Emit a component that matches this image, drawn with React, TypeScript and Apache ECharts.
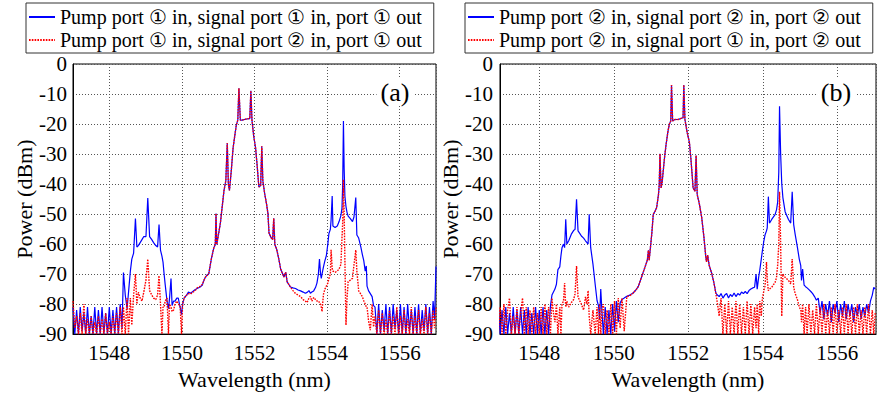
import React, { useEffect, useRef } from "react";
import * as echarts from "echarts";

// ---------- data : panel (a) ----------
const wlA = [
  1547.00,1547.05,1547.10,1547.15,1547.20,1547.25,1547.30,1547.35,1547.40,1547.45,
  1547.50,1547.55,1547.60,1547.65,1547.70,1547.75,1547.80,1547.85,1547.90,1547.95,
  1548.00,1548.05,1548.10,1548.15,1548.20,1548.25,1548.30,1548.35,
  1548.39,1548.44,1548.49,1548.53,1548.58,1548.62,1548.67,1548.72,1548.76,1548.80,
  1548.85,1548.90,1548.95,1549.01,1549.06,1549.11,1549.17,1549.22,1549.28,1549.33,
  1549.37,1549.41,1549.45,1549.48,1549.51,1549.54,1549.59,1549.63,1549.66,1549.70,
  1549.73,1549.77,1549.81,1549.86,1549.90,1549.95,1549.99,1550.02,1550.06,1550.13,
  1550.18,
  1550.24,1550.30,1550.36,1550.42,1550.49,1550.56,1550.61,1550.65,1550.70,1550.74,
  1550.81,1550.88,1550.92,1550.94,1550.96,1551.00,1551.06,1551.11,1551.16,1551.21,
  1551.25,1551.28,1551.31,1551.36,1551.41,1551.46,1551.50,1551.54,1551.57,1551.61,
  1551.66,1551.75,1551.84,1551.87,1551.90,1551.93,1551.98,1552.03,1552.07,1552.12,
  1552.17,1552.20,1552.23,1552.28,1552.33,1552.37,1552.40,1552.46,1552.50,1552.53,
  1552.56,1552.61,1552.67,1552.72,1552.81,1552.86,1552.90,1552.99,1553.06,1553.13,
  1553.20,1553.27,1553.34,1553.40,1553.45,1553.50,1553.54,1553.58,1553.63,1553.68,
  1553.72,1553.76,1553.79,1553.82,1553.84,1553.86,1553.90,1553.94,1553.98,1554.02,
  1554.05,1554.09,1554.11,1554.14,1554.16,1554.22,1554.28,1554.33,1554.38,1554.41,
  1554.43,1554.45,1554.47,1554.49,1554.52,1554.55,1554.58,1554.64,1554.70,1554.74,
  1554.79,1554.82,1554.87,1554.93,1554.97,1555.01,1555.05,1555.08,1555.10,1555.14,
  1555.19,1555.24,1555.28,
  1555.32,1555.37,1555.42,1555.47,1555.52,1555.57,1555.62,1555.67,1555.72,1555.77,
  1555.82,1555.87,1555.92,1555.97,1556.02,1556.07,1556.12,1556.17,1556.22,1556.27,
  1556.32,1556.37,1556.42,1556.47,1556.52,1556.57,1556.62,1556.67,1556.72,1556.77,
  1556.82,1556.87,1556.92,1556.96,1557.00,
];
const blueA = [
  -81,-90,-82,-90,-81,-89,-83,-90,-81,-90,
  -84,-90,-81,-90,-82,-90,-81,-90,-83,-90,
  -81,-90,-82,-90,-81,-90,-80,-88,
  -69.5,-77,-81.5,-76,-69,-65,-63,-51.5,-61,-60.5,
  -59.5,-58.5,-57.5,-57.5,-44.7,-57.5,-58.5,-59.5,-60.5,-61,
  -53.5,-62,-64,-66,-70,-73.5,-79,-81.5,-78,-71.5,
  -80.5,-79,-79,-78,-78,-81,-83.5,-80,-78,-77,
  -76,
  -76.4,-75.8,-75.2,-74.8,-74.4,-73.7,-72,-71,-70.2,-69.9,
  -65,-61.2,-60.1,-49.8,-60.1,-57.4,-53,-47.6,-42.1,-38.9,
  -26.3,-40,-42.1,-35.6,-28,-23.6,-20.3,-18.7,-8.1,-18.7,
  -18.7,-18.4,-18.2,-18.2,-8.9,-18.7,-24.2,-28,-33.4,-41,
  -40.5,-27.4,-38.9,-43.2,-46.5,-49.8,-56.3,-57.9,-58.5,-51.4,
  -60.1,-61.7,-65,-68.3,-71,-69.4,-72.6,-74.3,-74.6,-74.8,
  -75.3,-75.6,-76,-76.4,-76.1,-75.5,-76.4,-76,-75.6,-74.5,
  -73,-70,-65,-70,-71.4,-70,-67.6,-65.5,-63.8,-60,
  -56.5,-55.1,-52,-44,-54,-54.5,-54,-52.5,-50.5,-48,
  -40,-19,-35,-44,-47.5,-49.5,-50.7,-51.5,-52.5,-51,
  -44.5,-57,-58,-61,-63.4,-65.5,-69,-67.3,-74,-75.5,
  -76.5,-77.5,-80.5,
  -81,-90,-80,-90,-82,-89,-80,-90,-81,-90,
  -80,-88,-82,-90,-80,-90,-81,-90,-80,-89,
  -82,-90,-81,-90,-80,-90,-82,-89,-80,-90,
  -81,-90,-79,-85,-67.5,
];
const redA = [
  -79,-88,-84,-90,-83,-90,-80,-90,-85,-90,
  -84,-90,-86,-90,-84,-90,-85,-90,-83,-90,
  -86,-90,-84,-90,-83,-90,-81,-90,
  -81,-90,-78,-90,-78,-87,-77,-70,-80,-76,
  -78,-79,-76,-72,-65,-75.5,-77,-78,-78.5,-77,
  -70.5,-80,-90,-81,-81,-79,-78,-90,-80,-81,
  -82.5,-82,-80,-79,-80,-80.5,-90,-80,-78,-77,
  -76.5,
  -76.6,-76,-75.6,-74.6,-74.2,-73.5,-72,-71,-70.4,-69.9,
  -65,-61.2,-60.1,-49.8,-60.1,-57.4,-53,-47.6,-42.1,-38.9,
  -26.3,-40,-42.1,-35.6,-28,-23.6,-20.3,-18.7,-8.1,-18.7,
  -18.7,-18.4,-18.2,-18.2,-8.9,-18.7,-24.2,-28,-33.4,-41,
  -40.5,-27.4,-38.9,-43.2,-46.5,-49.8,-56.3,-57.9,-58.5,-51.4,
  -60.1,-61.7,-65,-68.3,-71,-69.4,-72.6,-74.3,-75.5,-76.5,
  -77,-77.5,-78.5,-79,-79.5,-78,-77.5,-79,-77.8,-78.5,
  -79,-78.9,-79.5,-80,-81,-82.5,-76.7,-75,-74,-73,
  -71.5,-70,-61.9,-68,-69,-69.4,-69,-68.3,-66.8,-58,
  -52.6,-38.5,-50,-65,-87,-78,-72.5,-72,-71.4,-67,
  -62,-69,-75.6,-76.7,-77.5,-78.9,-80,-81,-81,-85.4,
  -88.7,-80,-87.6,
  -84,-90,-82,-90,-83,-90,-85,-90,-82,-90,
  -84,-90,-81,-90,-84,-90,-82,-90,-85,-90,
  -81,-90,-84,-90,-82,-90,-85,-90,-81,-90,
  -83,-90,-82,-88,-81,
];

// ---------- data : panel (b) ----------
const wlB = [
  1546.90,1546.95,1547.00,1547.05,1547.10,1547.15,1547.20,1547.25,1547.30,1547.35,
  1547.40,1547.45,1547.50,1547.55,1547.60,1547.65,1547.70,1547.75,1547.80,1547.85,
  1547.90,1547.95,1548.00,1548.05,1548.10,1548.15,1548.20,1548.25,1548.30,
  1548.34,1548.38,1548.42,1548.46,1548.50,1548.55,1548.58,1548.61,1548.65,1548.68,
  1548.71,1548.74,1548.79,1548.86,1548.92,1548.96,1549.00,1549.04,1549.09,1549.13,
  1549.19,1549.24,1549.28,1549.31,1549.34,1549.38,1549.44,1549.50,1549.55,1549.59,
  1549.62,1549.65,1549.68,
  1549.72,1549.77,1549.82,1549.87,1549.92,1549.97,1550.02,1550.07,1550.12,1550.17,
  1550.22,1550.28,1550.35,
  1550.43,1550.52,1550.60,1550.66,1550.75,1550.84,1550.90,1550.93,1550.95,1551.02,
  1551.06,1551.11,1551.15,1551.20,1551.22,1551.24,1551.27,1551.30,1551.36,1551.40,
  1551.45,1551.49,1551.53,1551.55,1551.58,1551.64,1551.73,1551.79,1551.86,1551.88,
  1551.91,1551.97,1552.03,1552.07,1552.13,1552.18,1552.21,1552.24,1552.30,1552.36,
  1552.42,1552.47,1552.49,1552.52,1552.56,1552.63,1552.69,1552.74,1552.78,
  1552.83,1552.88,1552.93,1552.98,1553.03,1553.08,1553.13,1553.18,1553.23,1553.28,
  1553.33,1553.38,1553.43,1553.48,1553.53,1553.58,1553.63,1553.68,1553.73,1553.78,
  1553.82,1553.85,1553.89,1553.92,1553.96,1553.99,1554.03,1554.06,1554.10,1554.12,
  1554.15,1554.18,1554.24,1554.33,1554.37,1554.40,1554.43,1554.45,1554.48,1554.51,
  1554.54,1554.60,1554.69,1554.75,1554.79,1554.83,1554.87,1554.93,1554.98,1555.02,
  1555.04,1555.07,1555.11,1555.15,1555.19,1555.24,1555.29,1555.34,1555.39,1555.44,
  1555.49,
  1555.54,1555.59,1555.64,1555.69,1555.74,1555.79,1555.84,1555.89,1555.94,1555.99,
  1556.04,1556.09,1556.14,1556.19,1556.24,1556.29,1556.34,1556.39,1556.44,1556.49,
  1556.54,1556.59,1556.64,1556.69,1556.74,1556.79,1556.84,1556.89,1556.94,1556.98,
  1557.02,
];
const blueB = [
  -81,-90,-82,-90,-81,-90,-83,-90,-81,-90,
  -82,-90,-81,-90,-82,-90,-81,-90,-83,-90,
  -81,-90,-82,-90,-81,-90,-82,-90,-80.6,
  -77,-76,-75,-73.4,-68.5,-67.6,-64,-61.2,-60,-61.2,
  -51.7,-60,-58.9,-56.7,-55.5,-55.1,-45.1,-55.6,-56.5,-57.3,
  -58,-58.9,-59.5,-60,-50.1,-61.2,-66.6,-73.4,-78.8,-80.6,
  -85,-75,-82,
  -90,-81,-90,-82,-90,-80,-89,-79,-86,-79.6,
  -78.5,-78,-77.4,
  -77,-76.3,-75.2,-74.1,-70.8,-67.6,-65.4,-62.1,-65.4,-56.6,
  -50.1,-49,-47.9,-43.5,-40.3,-29.9,-41.3,-39.1,-31.5,-27.2,
  -22.8,-20.1,-19,-7,-19,-18.5,-18.5,-18.2,-17.9,-7,
  -18.5,-22.8,-26.1,-31.5,-41.3,-42.4,-30.5,-43.5,-46.8,-51.1,
  -57.7,-64.3,-65.9,-63.7,-67,-69.8,-73,-76.3,-77,
  -77.5,-76.5,-78,-77,-76.5,-78,-76.8,-77.5,-76.3,-77.5,
  -76.5,-77,-76,-76.5,-75.8,-76.5,-75.5,-75,-74.6,-74.4,
  -70,-75,-71,-68.7,-65,-62.2,-58.9,-57,-55.6,-54.6,
  -44.2,-53,-51.8,-50.2,-48.5,-46,-36,-14.1,-30,-40,
  -44.5,-49.2,-51.8,-53,-42.6,-53.5,-56.8,-61.1,-65,-67.2,
  -72.1,-68.3,-73.7,-74.2,-74.6,-75.2,-75.8,-76.5,-77.5,-78.7,
  -78,
  -83,-79,-85,-80,-84,-79,-86,-80,-83,-79,
  -86,-80,-84,-79,-85,-80,-84,-80,-86,-81,
  -84,-80,-85,-81,-84,-80,-83,-79,-77,-74.4,
  -75,
];
const redB = [
  -90,-81,-90,-80,-90,-82,-78,-90,-84,-90,
  -81,-90,-83,-78,-90,-81,-90,-82,-90,-81,
  -90,-83,-90,-81,-90,-80,-90,-81,-90,
  -78,-83,-86,-80,-90,-81,-90,-80,-79,-73,
  -81,-79,-81,-79.5,-78.5,-76.6,-67.3,-77.6,-79,-80,
  -82,-77.6,-80,-75.5,-84,-90,-82,-90,-81,-90,
  -80,-90,-82,
  -80,-90,-82,-90,-80,-90,-79,-90,-78,-88,
  -78,-89,-77.5,
  -77.2,-76.3,-75.2,-74.1,-70.8,-67.6,-65.4,-62.1,-65.4,-56.6,
  -50.1,-49,-47.9,-43.5,-40.3,-29.9,-41.3,-39.1,-31.5,-27.2,
  -22.8,-20.1,-19,-7,-19,-18.5,-18.5,-18.2,-17.9,-7,
  -18.5,-22.8,-26.1,-31.5,-41.3,-42.4,-30.5,-43.5,-46.8,-51.1,
  -57.7,-64.3,-65.9,-63.7,-67,-69.8,-73,-76.5,-79.6,
  -84,-78,-90,-80,-90,-79,-90,-81,-90,-79,
  -90,-80,-90,-81,-90,-79,-90,-80,-90,-81,
  -88,-80,-90,-79,-84,-78,-75.5,-74,-66,-72,
  -75.5,-75,-74.4,-72.8,-71.1,-67,-60,-42.6,-60,-84,
  -70,-71.1,-72.1,-73.3,-65,-74.4,-76.5,-78.5,-80.9,-82,
  -86,-80,-90,-81,-90,-80,-90,-82,-90,-80,
  -90,
  -81,-90,-80,-90,-82,-90,-81,-90,-80,-90,
  -82,-90,-81,-90,-80,-90,-82,-90,-81,-90,
  -80,-90,-82,-90,-81,-90,-80,-90,-82,-90,
  -83,
];

const legendA = [
  "Pump port ① in, signal port ① in, port ① out",
  "Pump port ① in, signal port ② in, port ① out",
];
const legendB = [
  "Pump port ② in, signal port ② in, port ② out",
  "Pump port ② in, signal port ① in, port ② out",
];
const panelLabels = ["(a)", "(b)"];

const FONT = "Liberation Serif";

function pairs(xs: number[], ys: number[]) {
  return xs.map((x, i) => [x, ys[i]]);
}

function mkX(gridIndex: number, min: number, max: number) {
  return {
    type: "value",
    gridIndex,
    min,
    max,
    splitNumber: 5,
    name: "Wavelength (nm)",
    nameLocation: "middle",
    nameGap: 28,
    nameTextStyle: { fontSize: 22, fontFamily: FONT, color: "#000" },
    axisLine: { show: true, onZero: false, lineStyle: { color: "#000", width: 1 } },
    axisTick: { show: false },
    axisLabel: {
      fontSize: 21,
      fontFamily: FONT,
      color: "#000",
      margin: 8,
      showMinLabel: false,
      showMaxLabel: false,
      formatter: (v: number) => String(v),
    },
    splitLine: { show: true, lineStyle: { color: "#555", type: [1, 2], width: 1 } },
  };
}

function mkY(gridIndex: number, nameGap: number, margin: number) {
  return {
    type: "value",
    gridIndex,
    min: -90,
    max: 0,
    interval: 10,
    name: "Power (dBm)",
    nameLocation: "middle",
    nameGap,
    nameTextStyle: { fontSize: 22, fontFamily: FONT, color: "#000" },
    axisLine: { show: true, onZero: false, lineStyle: { color: "#000", width: 1 } },
    axisTick: { show: false },
    axisLabel: { fontSize: 21, fontFamily: FONT, color: "#000", margin, formatter: (v: number) => String(v) },
    splitLine: { show: true, lineStyle: { color: "#555", type: [1, 2], width: 1 } },
  };
}

function mkLegend(data: string[], left: number) {
  return {
    data,
    left,
    top: 3,
    orient: "vertical",
    itemWidth: 26,
    itemHeight: 14,
    itemGap: 3,
    padding: [4, 12, 3, 2],
    borderColor: "#333",
    borderWidth: 1,
    backgroundColor: "#fff",
    selectedMode: false,
    itemStyle: { opacity: 0 },
    textStyle: { fontSize: 20, lineHeight: 20, fontFamily: FONT, color: "#000" },
  };
}

const BLUE = { color: "#0000ff", width: 1.2 };
const RED = { color: "#ff0000", width: 1.4, type: [1.6, 1.2] };

export default function App() {
  const ref = useRef<HTMLDivElement>(null);
  useEffect(() => {
    if (!ref.current) return;
    const chart = echarts.init(ref.current, undefined, { renderer: "svg" });
    chart.setOption({
      animation: false,
      backgroundColor: "#fff",
      textStyle: { fontFamily: FONT, color: "#000" },
      grid: [
        { left: 73, top: 64, width: 363, height: 277, show: true, borderColor: "#000", borderWidth: 1 },
        { left: 500, top: 64, width: 376, height: 274, show: true, borderColor: "#000", borderWidth: 1 },
      ],
      xAxis: [mkX(0, 1547, 1557), mkX(1, 1546.945, 1557.04)],
      yAxis: [mkY(0, 38, 6), mkY(1, 37, 7)],
      legend: [mkLegend(legendA, 26), mkLegend(legendB, 465)],
      series: [
        {
          name: legendA[0], type: "line", xAxisIndex: 0, yAxisIndex: 0,
          data: pairs(wlA, blueA), symbol: "none", lineStyle: BLUE, itemStyle: { color: BLUE.color }, z: 2,
        },
        {
          name: legendA[1], type: "line", xAxisIndex: 0, yAxisIndex: 0,
          data: pairs(wlA, redA), symbol: "none", lineStyle: RED, itemStyle: { color: RED.color }, z: 3,
        },
        {
          name: legendB[0], type: "line", xAxisIndex: 1, yAxisIndex: 1,
          data: pairs(wlB, blueB), symbol: "none", lineStyle: BLUE, itemStyle: { color: BLUE.color }, z: 2,
        },
        {
          name: legendB[1], type: "line", xAxisIndex: 1, yAxisIndex: 1,
          data: pairs(wlB, redB), symbol: "none", lineStyle: RED, itemStyle: { color: RED.color }, z: 3,
        },
      ],
      graphic: [
        {
          type: "text", x: 395, y: 92, z: 100,
          style: {
            text: panelLabels[0], fontSize: 26, fontFamily: FONT, fill: "#000",
            align: "center", verticalAlign: "middle", backgroundColor: "#fff", padding: [0, 4],
          },
        },
        {
          type: "text", x: 836, y: 92, z: 100,
          style: {
            text: panelLabels[1], fontSize: 26, fontFamily: FONT, fill: "#000",
            align: "center", verticalAlign: "middle", backgroundColor: "#fff", padding: [0, 4],
          },
        },
      ],
    });
    return () => chart.dispose();
  }, []);
  return (
    <div
      ref={ref}
      style={{ position: "fixed", left: 0, top: 0, width: 880, height: 395, background: "#fff" }}
    />
  );
}
